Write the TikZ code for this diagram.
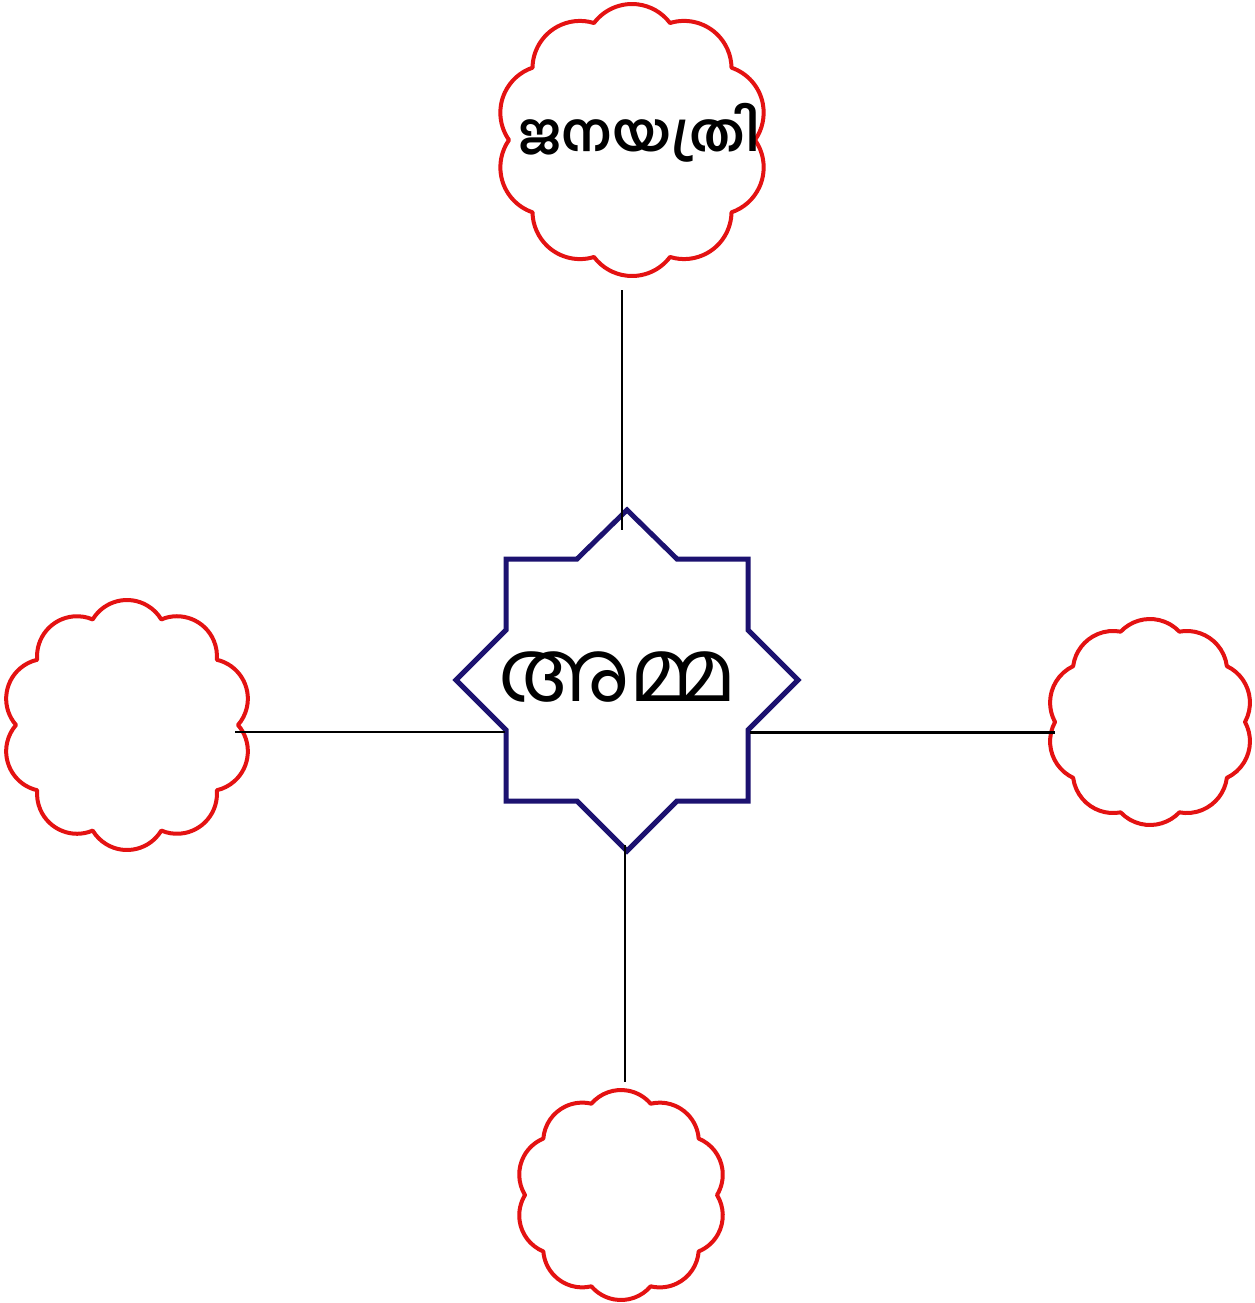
\documentclass[tikz,border=0pt]{standalone}
\usepackage{fontspec}
\newfontfamily\malfont[Script=Malayalam]{Hind Kochi}
\usetikzlibrary{calc}
\definecolor{flowerred}{RGB}{228,18,18}
\definecolor{starblue}{RGB}{28,18,112}
\tikzset{
  flower/.style={draw=flowerred, line width=4pt, line join=round},
  starline/.style={draw=starblue, fill=white, line width=5pt, line join=miter},
  conn/.style={draw=black, line width=2pt},
  hub/.style={circle, inner sep=0pt, minimum size=#1},
  bigtext/.style={font=\malfont\fontsize{85}{92}\selectfont, inner sep=0pt},
  cloudtext/.style={font=\malfont\bfseries\fontsize{53}{60}\selectfont, inner sep=0pt},
}
% #1 name, #2 cx, #3 cy, #4 peak radius, #5 cusp radius
\newcommand\drawflower[5]{%
  \pgfmathsetmacro\fh{#5*sin(18)}%
  \pgfmathsetmacro\fm{#5*cos(18)}%
  \pgfmathsetmacro\fs{#4-\fm}%
  \pgfmathsetmacro\frho{(\fh*\fh+\fs*\fs)/(2*\fs)}%
  \pgfmathsetmacro\fc{#4-\frho}%
  \pgfmathsetmacro\fphi{atan2(\fh,\fm-\fc)}%
  \node[hub=2*#5 pt] (#1) at (#2,#3) {};
  \draw[flower] ($(#2,#3)+(0:#5)$)
    \foreach \k in {0,...,9}{
      arc[start angle={36*\k+18-\fphi}, end angle={36*\k+18+\fphi}, radius=\frho]
    } -- cycle;
}
\begin{document}
\begin{tikzpicture}[x=1pt,y=-1pt]
\useasboundingbox (0,0) rectangle (1254,1303);
\fill[white] (0,0) rectangle (1254,1303);

% clouds
\drawflower{topcloud}{632}{140}{136}{123}
\drawflower{leftcloud}{127}{725}{125}{111}
\drawflower{rightcloud}{1150}{722}{103}{95}
\drawflower{bottomcloud}{621}{1195}{105}{96}

% star
\node[hub=342pt] (star) at (627,681) {};
\draw[starline] (627,681)
  ++(0,-171) -- ++(50,49) -- ++(71,0) -- ++(0,71) -- ++(50,50)
  -- ++(-50,50) -- ++(0,71) -- ++(-71,0) -- ++(-50,50)
  -- ++(-50,-50) -- ++(-71,0) -- ++(0,-71) -- ++(-50,-50)
  -- ++(50,-50) -- ++(0,-71) -- ++(71,0) -- cycle;

% texts
\node[bigtext] (amma) at (618,677) {അമ്മ};
\node[cloudtext] (janayatri) at (639,133) {ജനയത്രി};

% connector end points
\coordinate (ta) at (622,290);
\coordinate (tb) at (622,530);
\coordinate (ba) at (625,845);
\coordinate (bb) at (625,1082);
\coordinate (la) at (235,732);
\coordinate (lb) at (505,732);
\coordinate (ra) at (750,732);
\coordinate (rb) at (1055,732);

\draw[conn] (ta) -- (tb);
\draw[conn] (ba) -- (bb);
\draw[conn, line width=2.4pt] (la) -- (lb);
\draw[conn, line width=3pt] (ra) -- (rb);
\end{tikzpicture}
\end{document}
